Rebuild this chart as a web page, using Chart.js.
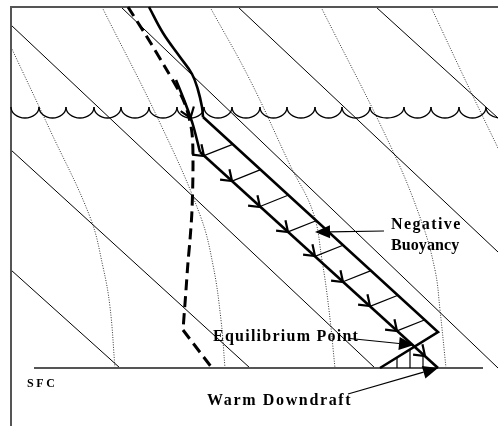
<!DOCTYPE html>
<html>
<head>
<meta charset="utf-8">
<script src="https://cdn.jsdelivr.net/npm/chart.js@4"></script>
<style>
  html, body { margin: 0; padding: 0; background: #fff; }
  #wrap { width: 498px; height: 426px; }
</style>
</head>
<body>
<div id="wrap"><canvas id="diagram" width="498" height="426"></canvas></div>
<script>
// Downdraft sounding sketch - coordinates read off the reference
// diagram units: x to the right, y downward (0..498 x 0..426)

const frameLine = [[11, 426], [11, 7], [498, 7]];
const surfaceLine = [[34, 368], [483, 368]];

// thin solid diagonals
const solidDiagonals = [
  [[11, 270], [120, 368]],
  [[11, 150], [250, 368]],
  [[11, 25], [375, 368]],
  [[121, 7], [498, 368]],
  [[238, 7], [498, 252]],
  [[376, 7], [498, 118]]
];

// thin dotted curves
const dottedCurves = [
  [[11, 47], [50, 130], [90, 217], [103, 267], [110, 307], [115, 368]],
  [[102, 7], [160, 123], [200, 215], [213, 265], [221, 320], [225, 368]],
  [[210, 7], [250, 80], [290, 165], [313, 212], [322, 260], [329, 310], [335, 368]],
  [[321, 7], [391, 147], [421, 220], [435, 270], [440, 310], [446, 368]],
  [[431, 7], [470, 90], [498, 148]]
];

// environmental temperature (thick)
const tempCurve = [[149, 7], [163, 33], [180, 57], [192, 74], [198, 90], [202, 107], [203, 117]];
const tempStraight = [[203, 117], [438, 332], [380, 368]];

// dewpoint (thick dashed)
const dewUpper = [[128, 7], [147, 37], [165, 67], [181, 95], [187, 110], [192, 133], [193, 165],
                  [192, 210], [190, 240], [188, 262], [186, 290], [183, 330]];
const dewLower = [[183, 330], [212, 368]];

// descending parcel path
const descentCurve = [[176, 80], [186, 105], [193, 125], [200, 152]];
const descentStraight = [[200, 152], [438, 368]];
const descentArrows = [[190.5, 118], [204, 156], [232, 181], [260, 207], [288, 232],
                       [315, 256], [343, 282], [370, 306], [397, 331], [425, 356]];

// rungs between parcel path and environment
const rungs = [
  [[204, 155.6], [232, 144.6]],
  [[232, 181.1], [260, 169.9]],
  [[260, 206.5], [288, 195.3]],
  [[288, 231.9], [316, 220.7]],
  [[315, 256.4], [343, 245.2]],
  [[343, 281.8], [371, 270.6]],
  [[370, 306.4], [398, 295.2]],
  [[397, 330.9], [425, 319.7]]
];
// hatching below the equilibrium point
const hatch = [
  [[397, 357.5], [397, 368]],
  [[410, 349.4], [410, 368]],
  [[423, 354.8], [423, 368]]
];

// cloud base scallops
const cloudCusps = [11, 39, 66, 94, 121, 149, 177, 204, 232, 260, 287, 315, 342, 370, 404, 431, 459, 486, 514];
const cloudBase = 107;
const cloudBottom = 118;

// annotations
const annotations = [
  { text: 'Negative', at: [391, 229] },
  { text: 'Buoyancy', at: [391, 249.5] },
  { text: 'Equilibrium Point', at: [213, 341] },
  { text: 'Warm Downdraft', at: [207, 405] },
  { text: 'SFC', at: [27, 387] }
];
const pointers = [
  [[384, 231], [315, 232]],
  [[350, 338.5], [414, 345]],
  [[348, 394], [438, 368]]
];

function line(pts, style) {
  return Object.assign({
    data: pts.map(p => ({ x: p[0], y: p[1] })),
    showLine: true, pointRadius: 0, fill: false, tension: 0,
    borderColor: '#000', borderWidth: 1
  }, style);
}

const datasets = [];
datasets.push(line(tempCurve, { borderWidth: 2.6, tension: 0.4 }));
datasets.push(line(tempStraight, { borderWidth: 2.6 }));
datasets.push(line(descentCurve, { borderWidth: 2.6, tension: 0.3 }));
datasets.push(line(descentStraight, { borderWidth: 2.6 }));
datasets.push(line(dewUpper, { borderWidth: 3, tension: 0.3, borderDash: [11, 6] }));
datasets.push(line(dewLower, { borderWidth: 3, borderDash: [11, 6] }));
rungs.forEach(r => datasets.push(line(r, { borderWidth: 1.2 })));
hatch.forEach(h => datasets.push(line(h, { borderWidth: 1.2 })));
datasets.push(line(surfaceLine, { borderColor: '#555', borderWidth: 2 }));
datasets.push(line(frameLine, { borderColor: '#555', borderWidth: 2 }));
solidDiagonals.forEach(d => datasets.push(line(d, { borderWidth: 1 })));
dottedCurves.forEach(d => datasets.push(line(d, { borderColor: '#333', borderWidth: 1, borderDash: [1, 1.5], tension: 0.4 })));

// scallops, arrowheads and labels drawn through the chart scales
const diagramExtras = {
  id: 'diagramExtras',
  afterDatasetsDraw(chart) {
    const c = chart.ctx, xs = chart.scales.x, ys = chart.scales.y;
    const px = p => [xs.getPixelForValue(p[0]), ys.getPixelForValue(p[1])];
    c.save();
    c.strokeStyle = '#000';
    c.fillStyle = '#000';

    // cloud base
    c.lineWidth = 1.3;
    const top = ys.getPixelForValue(cloudBase);
    const depth = ys.getPixelForValue(cloudBottom) - top;
    for (let i = 0; i < cloudCusps.length - 1; i++) {
      const x0 = xs.getPixelForValue(cloudCusps[i]);
      const x1 = xs.getPixelForValue(cloudCusps[i + 1]);
      c.beginPath();
      c.ellipse((x0 + x1) / 2, top, (x1 - x0) / 2, depth, 0, 0, Math.PI);
      c.stroke();
    }

    // open arrowheads along the parcel path
    const path = descentCurve.concat(descentStraight.slice(1));
    c.lineWidth = 2.2;
    descentArrows.forEach(p => {
      let seg = path.length - 2;
      for (let i = 0; i < path.length - 1; i++) {
        if (p[1] >= path[i][1] && p[1] <= path[i + 1][1]) { seg = i; break; }
      }
      const a = px(path[seg]), b = px(path[seg + 1]);
      const ang = Math.atan2(b[1] - a[1], b[0] - a[0]);
      const [tx, ty] = px(p);
      const len = 12, spread = 0.62;
      c.beginPath();
      c.moveTo(tx + len * Math.cos(ang + Math.PI - spread), ty + len * Math.sin(ang + Math.PI - spread));
      c.lineTo(tx, ty);
      c.lineTo(tx + len * Math.cos(ang + Math.PI + spread), ty + len * Math.sin(ang + Math.PI + spread));
      c.stroke();
    });

    // label pointers with filled heads
    pointers.forEach(([from, to]) => {
      const a = px(from), b = px(to);
      const ang = Math.atan2(b[1] - a[1], b[0] - a[0]);
      const L = 15, W = 6.5;
      const bx = b[0] - L * Math.cos(ang), by = b[1] - L * Math.sin(ang);
      c.lineWidth = 1.2;
      c.beginPath(); c.moveTo(a[0], a[1]); c.lineTo(bx, by); c.stroke();
      c.beginPath();
      c.moveTo(b[0], b[1]);
      c.lineTo(bx - W * Math.sin(ang), by + W * Math.cos(ang));
      c.lineTo(bx + W * Math.sin(ang), by - W * Math.cos(ang));
      c.closePath();
      c.fill();
    });

    // labels
    const spacing = { 'Negative': 1.4, 'Buoyancy': 0.1, 'Equilibrium Point': 1.25, 'Warm Downdraft': 1.65, 'SFC': 2.6 };
    c.textBaseline = 'alphabetic';
    c.textAlign = 'left';
    annotations.forEach(a => {
      const size = a.text === 'SFC' ? 12 : 16;
      c.font = 'bold ' + size + 'px "Liberation Serif", "DejaVu Serif", serif';
      c.letterSpacing = spacing[a.text] + 'px';
      const [x, y] = px(a.at);
      c.fillText(a.text, x, y);
    });
    c.restore();
  }
};

new Chart(document.getElementById('diagram'), {
  type: 'scatter',
  data: { datasets: datasets },
  options: {
    responsive: false,
    animation: false,
    devicePixelRatio: 1,
    layout: { padding: 0 },
    plugins: { legend: { display: false }, tooltip: { enabled: false } },
    scales: {
      x: { type: 'linear', min: 0, max: 498, display: false },
      y: { type: 'linear', min: 0, max: 426, reverse: true, display: false }
    }
  },
  plugins: [diagramExtras]
});
</script>
</body>
</html>
